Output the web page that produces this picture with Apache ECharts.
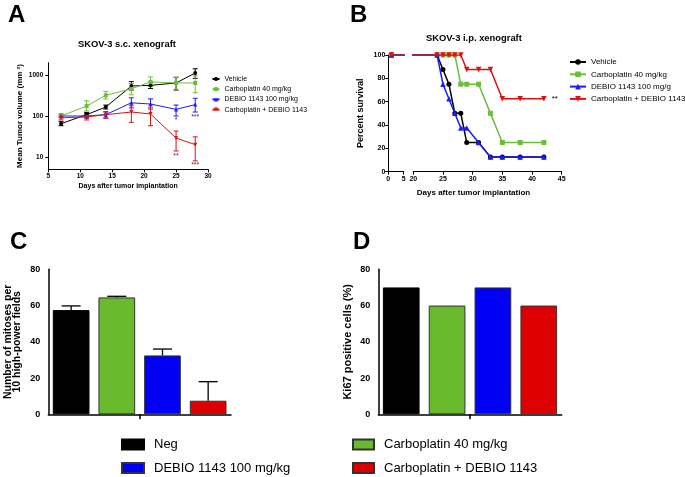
<!DOCTYPE html>
<html>
<head>
<meta charset="utf-8">
<title>SKOV-3 xenograft</title>
<script src="https://cdn.jsdelivr.net/npm/echarts@6/dist/echarts.min.js"></script>
<style>
  body { margin: 0; background: #fff; }
  .layer { position: absolute; left: 0; top: 0; width: 685px; height: 477px; }
</style>
</head>
<body>
<div id="chartCD" class="layer"></div>
<div id="chartA" class="layer"></div>
<div id="chartB" class="layer"></div>
<script>
var FONT = "'Liberation Sans', Arial, sans-serif";

// ---- A: tumour volume, s.c. model ----
var daysA = [7, 11, 14, 18, 21, 25, 28];
var vehicleA = [65, 108, 165, 540, 560, 640, 1120];
var vehicleLoA = [58, 95, 148, 430, 470, 430, 830];
var vehicleHiA = [73, 122, 185, 690, 660, 880, 1420];
var carboA = [100, 175, 320, 460, 680, 640, 640];
var carboLoA = [92, 132, 260, 330, 520, 450, 370];
var carboHiA = [108, 235, 400, 620, 900, 880, 960];
var debioA = [100, 100, 108, 210, 196, 145, 190];
var debioLoA = [90, 88, 90, 158, 148, 100, 125];
var debioHiA = [112, 115, 125, 278, 262, 185, 270];
var comboA = [90, 95, 108, 125, 112, 29, 20];
var comboLoA = [80, 80, 88, 70, 58, 14, 8];
var comboHiA = [100, 110, 128, 178, 165, 43, 31];
var starsA = [[25, 79, '*'], [28, 93, '***'], [25, 10.5, '**'], [28, 6.3, '***']];

// ---- B: survival, i.p. model ----
var vehicleB = [[1, 100], [24, 100], [25, 87.5], [26, 75], [27, 50], [28, 50], [29, 25], [31, 25], [33, 12.5], [35, 12.5], [38, 12.5], [42, 12.5]];
var carboB = [[1, 100], [25, 100], [26, 100], [27, 100], [28, 75], [29, 75], [31, 75], [33, 50], [35, 25], [38, 25], [42, 25]];
var debioB = [[1, 100], [24, 100], [25, 75], [26, 62.5], [27, 50], [28, 37.5], [29, 37.5], [31, 25], [33, 12.5], [35, 12.5], [38, 12.5], [42, 12.5]];
var comboB = [[1, 100], [24, 100], [25, 100], [26, 100], [27, 100], [28, 100], [29, 87.5], [31, 87.5], [33, 87.5], [35, 62.5], [38, 62.5], [42, 62.5]];

// ---- C / D: histology ----
var groups = ['Neg', 'Carboplatin 40 mg/kg', 'DEBIO 1143 100 mg/kg', 'Carboplatin + DEBIO 1143'];
var mitoses = [57.5, 64.5, 32.5, 7.5];
var mitosesErr = [2.3, 0.6, 3.5, 10.5];
var ki67 = [70, 60, 70, 60];

var lineColors = ['#000000', '#6dbd3a', '#1a1aff', '#e01010'];
var barColors = ['#000000', '#6aba2e', '#0000f5', '#dd0000'];

function errorBar(half, width) {
  return function (params, api) {
    var p0 = api.coord([api.value(0), api.value(1)]);
    var p1 = api.coord([api.value(0), api.value(2)]);
    var st = { stroke: api.visual('color'), lineWidth: width };
    return {
      type: 'group',
      children: [
        { type: 'line', shape: { x1: p0[0], y1: p0[1], x2: p1[0], y2: p1[1] }, style: st },
        { type: 'line', shape: { x1: p0[0] - half, y1: p0[1], x2: p0[0] + half, y2: p0[1] }, style: st },
        { type: 'line', shape: { x1: p1[0] - half, y1: p1[1], x2: p1[0] + half, y2: p1[1] }, style: st }
      ]
    };
  };
}

function axisLine(w) {
  return { show: true, onZero: false, lineStyle: { color: '#000', width: w } };
}

function letter(t, x, y) {
  return { text: t, left: x, top: y, padding: 0, textStyle: { fontSize: 24, fontWeight: 'bold', color: '#000', fontFamily: FONT } };
}

// ================= A =================
var namesA = ['Vehicle', 'Carboplatin 40 mg/kg', 'DEBIO 1143 100 mg/kg', 'Carboplatin + DEBIO 1143'];
var meansA = [vehicleA, carboA, debioA, comboA];
var losA = [vehicleLoA, carboLoA, debioLoA, comboLoA];
var hisA = [vehicleHiA, carboHiA, debioHiA, comboHiA];
var symbolsA = ['circle', 'rect', 'triangle', 'triangle'];

var seriesA = [];
namesA.forEach(function (n, i) {
  seriesA.push({
    type: 'custom',
    name: n + ' SEM',
    renderItem: errorBar(2.5, 1),
    itemStyle: { color: lineColors[i] },
    data: daysA.map(function (d, j) { return [d, losA[i][j], hisA[i][j]]; }),
    z: 2
  });
  seriesA.push({
    type: 'line',
    name: n,
    data: daysA.map(function (d, j) { return [d, meansA[i][j]]; }),
    symbol: symbolsA[i],
    symbolRotate: i === 3 ? 180 : 0,
    symbolSize: 4,
    showAllSymbol: true,
    itemStyle: { color: lineColors[i] },
    lineStyle: { color: lineColors[i], width: 1 },
    z: 3
  });
});
seriesA.push({
  type: 'scatter',
  name: 'stars',
  symbolSize: 0,
  data: starsA,
  label: {
    show: true, position: 'inside', color: '#000', fontSize: 7,
    formatter: function (p) { return p.value[2]; }
  },
  z: 4
});

var chartA = echarts.init(document.getElementById('chartA'));
chartA.setOption({
  animation: false,
  textStyle: { fontFamily: FONT },
  title: [
    letter('A', 8, 3),
    { text: 'SKOV-3 s.c. xenograft', left: 78, top: 40, padding: 0, textStyle: { fontSize: 9.4, fontWeight: 'bold', color: '#000', fontFamily: FONT } }
  ],
  legend: {
    data: namesA, orient: 'vertical', left: 211.5, top: 75, padding: 0,
    itemWidth: 7, itemHeight: 5, itemGap: 2.2,
    textStyle: { fontSize: 7, lineHeight: 8, color: '#000', fontFamily: FONT }
  },
  grid: { left: 48.3, top: 62.7, width: 159.7, height: 106.6 },
  xAxis: {
    type: 'value', min: 5, max: 30, interval: 5,
    name: 'Days after tumor implantation', nameLocation: 'middle', nameGap: 13.5,
    nameTextStyle: { fontSize: 7, fontWeight: 'bold', color: '#000' },
    axisLine: axisLine(1), axisTick: { length: 3, lineStyle: { color: '#000' } },
    axisLabel: { fontSize: 6.5, fontWeight: 'bold', color: '#000', margin: 3 },
    splitLine: { show: false }
  },
  yAxis: {
    type: 'log', logBase: 10, min: 5, max: 2000,
    name: 'Mean Tumor volume (mm ³)', nameLocation: 'middle', nameGap: 25,
    nameTextStyle: { fontSize: 8, fontWeight: 'bold', color: '#000' },
    axisLine: axisLine(1), axisTick: { length: 3, lineStyle: { color: '#000' } },
    axisLabel: {
      fontSize: 6.5, fontWeight: 'bold', color: '#000', margin: 5,
      showMinLabel: false, showMaxLabel: false,
      formatter: function (v) {
        var l = Math.log10(v);
        return Math.abs(l - Math.round(l)) < 1e-6 ? String(Math.round(v)) : '';
      }
    },
    splitLine: { show: false }, minorTick: { show: false }
  },
  series: seriesA
});

// ================= B =================
var namesB = ['Vehicle', 'Carboplatin 40 mg/kg', 'DEBIO 1143 100 mg/g', 'Carboplatin + DEBIO 1143'];
var dataB = [vehicleB, carboB, debioB, comboB];
var symbolsB = ['circle', 'rect', 'triangle', 'triangle'];
var sizesB = [5, 5, 5.5, 5.5];

var seriesB = [];
[0, 1].forEach(function (g) {
  namesB.forEach(function (n, i) {
    var pts = dataB[i].map(function (p) { return p.slice(); });
    if (g === 1 && i === 3) {
      var last = pts.length - 1;
      pts[last] = { value: pts[last], label: { show: true, position: 'right', distance: 5, formatter: '**', fontSize: 8, color: '#000' } };
    }
    seriesB.push({
      type: 'line', name: n, xAxisIndex: g, yAxisIndex: g,
      data: pts, clip: true,
      symbol: symbolsB[i], symbolRotate: i === 3 ? 180 : 0, symbolSize: sizesB[i],
      showAllSymbol: true,
      itemStyle: { color: lineColors[i] },
      lineStyle: { color: lineColors[i], width: 1.5 },
      z: 2 + i
    });
  });
});

var chartB = echarts.init(document.getElementById('chartB'));
chartB.setOption({
  animation: false,
  textStyle: { fontFamily: FONT },
  title: [
    letter('B', 350, 3),
    { text: 'SKOV-3 i.p. xenograft', left: 426, top: 33.5, padding: 0, textStyle: { fontSize: 9.4, fontWeight: 'bold', color: '#000', fontFamily: FONT } }
  ],
  legend: {
    data: namesB, orient: 'vertical', left: 569, top: 57.5, padding: 0,
    itemWidth: 16, itemHeight: 7, itemGap: 3.3,
    textStyle: { fontSize: 8, lineHeight: 9, color: '#000', fontFamily: FONT }
  },
  grid: [
    { left: 388.3, top: 55, width: 15.3, height: 116.7 },
    { left: 413.3, top: 55, width: 148.4, height: 116.7 }
  ],
  xAxis: [
    {
      gridIndex: 0, type: 'value', min: 0, max: 5, interval: 5,
      axisLine: axisLine(1), axisTick: { length: 3, lineStyle: { color: '#000' } },
      axisLabel: { fontSize: 7, fontWeight: 'bold', color: '#000', margin: 4 },
      splitLine: { show: false }
    },
    {
      gridIndex: 1, type: 'value', min: 20, max: 45, interval: 5,
      name: 'Days after tumor implantation', nameLocation: 'middle', nameGap: 17,
      nameTextStyle: { fontSize: 8, fontWeight: 'bold', color: '#000', padding: [0, 28, 0, 0] },
      axisLine: axisLine(1), axisTick: { length: 3, lineStyle: { color: '#000' } },
      axisLabel: { fontSize: 7, fontWeight: 'bold', color: '#000', margin: 4 },
      splitLine: { show: false }
    }
  ],
  yAxis: [
    {
      gridIndex: 0, type: 'value', min: 0, max: 100, interval: 20,
      name: 'Percent survival', nameLocation: 'middle', nameGap: 23,
      nameTextStyle: { fontSize: 9, fontWeight: 'bold', color: '#000' },
      axisLine: axisLine(1), axisTick: { length: 3, lineStyle: { color: '#000' } },
      axisLabel: { fontSize: 7, fontWeight: 'bold', color: '#000', margin: 3 },
      splitLine: { show: false }
    },
    { gridIndex: 1, type: 'value', min: 0, max: 100, show: false }
  ],
  series: seriesB
});

// ================= C + D =================
var seriesCD = [];
groups.forEach(function (n, i) {
  var style = { color: barColors[i], borderColor: i === 0 ? '#000' : '#333', borderWidth: 1 };
  seriesCD.push({
    type: 'bar', name: n, xAxisIndex: 0, yAxisIndex: 0,
    data: mitoses.map(function (v, j) { return j === i ? v : '-'; }),
    barWidth: 36.7, barGap: '-100%', itemStyle: style
  });
  seriesCD.push({
    type: 'bar', name: n, xAxisIndex: 2, yAxisIndex: 1,
    data: ki67.map(function (v, j) { return j === i ? v : '-'; }),
    barWidth: 36.7, barGap: '-100%', itemStyle: style
  });
});
seriesCD.push({
  type: 'custom', name: 'mitoses SEM', xAxisIndex: 0, yAxisIndex: 0,
  renderItem: function (params, api) {
    var p0 = api.coord([api.value(0), api.value(1)]);
    var p1 = api.coord([api.value(0), api.value(2)]);
    var st = { stroke: '#000', lineWidth: 1.3 };
    return {
      type: 'group',
      children: [
        { type: 'line', shape: { x1: p0[0], y1: p0[1], x2: p1[0], y2: p1[1] }, style: st },
        { type: 'line', shape: { x1: p1[0] - 9.5, y1: p1[1], x2: p1[0] + 9.5, y2: p1[1] }, style: st }
      ]
    };
  },
  data: mitoses.map(function (v, i) { return [i, v, v + mitosesErr[i]]; }),
  z: 5
});

function barYAxis(grid, name, size) {
  return {
    gridIndex: grid, type: 'value', min: 0, max: 80, interval: 20,
    name: name, nameLocation: 'middle', nameGap: 26,
    nameTextStyle: { fontSize: size, lineHeight: 9.5, fontWeight: 'bold', color: '#000' },
    axisLine: axisLine(1.5), axisTick: { length: 5, lineStyle: { color: '#000', width: 1.5 } },
    axisLabel: { fontSize: 9, fontWeight: 'bold', color: '#000', margin: 8 },
    splitLine: { show: false }
  };
}
function barXAxis(grid) {
  return {
    gridIndex: grid, type: 'category', data: groups, position: 'bottom',
    axisLine: axisLine(1.5), axisTick: { show: false }, axisLabel: { show: false }
  };
}
function tickXAxis(grid) {
  return {
    gridIndex: grid, type: 'category', data: [''], position: 'bottom',
    axisLine: { show: false }, axisLabel: { show: false },
    axisTick: { show: true, alignWithLabel: true, length: 5, lineStyle: { color: '#000', width: 1.5 } }
  };
}

var legendText = { fontSize: 13, lineHeight: 14, color: '#000', padding: [0, 0, 0, 5], fontFamily: FONT };

var chartCD = echarts.init(document.getElementById('chartCD'));
chartCD.setOption({
  animation: false,
  backgroundColor: '#fff',
  textStyle: { fontFamily: FONT },
  title: [letter('C', 10, 230), letter('D', 353, 230)],
  legend: [
    {
      data: [groups[0], groups[2]], orient: 'vertical', left: 121, top: 437.5, padding: 0,
      icon: 'rect', itemWidth: 22, itemHeight: 10, itemGap: 9.5, textStyle: legendText
    },
    {
      data: [groups[1], groups[3]], orient: 'vertical', left: 352, top: 437.5, padding: 0,
      icon: 'rect', itemWidth: 21, itemHeight: 10, itemGap: 9.5, textStyle: legendText
    }
  ],
  grid: [
    { left: 48.3, top: 269.3, width: 182.7, height: 145 },
    { left: 378.3, top: 269.3, width: 183.4, height: 145 }
  ],
  xAxis: [barXAxis(0), tickXAxis(0), barXAxis(1), tickXAxis(1)],
  yAxis: [
    barYAxis(0, 'Number of mitoses per\n10 high-power fields', 10.5),
    barYAxis(1, 'Ki67 positive cells (%)', 11)
  ],
  series: seriesCD
});
</script>
</body>
</html>
